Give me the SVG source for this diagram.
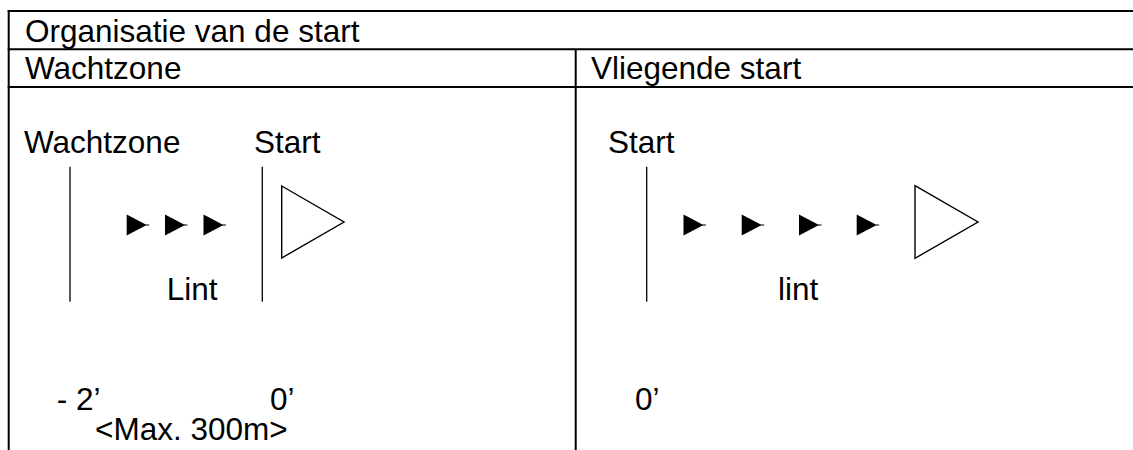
<svg xmlns="http://www.w3.org/2000/svg" width="1133" height="450" viewBox="0 0 1133 450">
<style>
.t{font-family:"Liberation Sans",Arial,sans-serif;font-size:31.5px;fill:#000}
.grid{stroke:#000;stroke-width:2;fill:none}
.post{stroke:#000;stroke-width:1.3;fill:none}
.flag{stroke:#000;stroke-width:1.4;fill:#fff;stroke-linejoin:miter}
.pt{fill:#000}
.tail{stroke:#000;stroke-width:1}
</style>
<defs>
<g id="pennant">
<polygon class="pt" points="0,-10.5 20,0 0,10.5"/>
<line class="tail" x1="19" y1="0" x2="22.5" y2="0"/>
</g>
</defs>
<rect width="1133" height="450" fill="#fff"/>
<g id="table">
<line class="grid" x1="7.7" y1="11" x2="1133" y2="11"/>
<line class="grid" x1="7.7" y1="49.3" x2="1133" y2="49.3"/>
<line class="grid" x1="7.7" y1="87" x2="1133" y2="87"/>
<line class="grid" x1="8.7" y1="10" x2="8.7" y2="450"/>
<line class="grid" x1="575.7" y1="49.3" x2="575.7" y2="450"/>
<text class="t" x="25" y="41.7">Organisatie van de start</text>
<text class="t" x="25" y="79">Wachtzone</text>
<text class="t" x="591" y="79">Vliegende start</text>
</g>
<g id="wachtzone">
<text class="t" x="24" y="153">Wachtzone</text>
<line class="post" x1="70" y1="166.7" x2="70" y2="301.7"/>
<text class="t" x="254" y="153">Start</text>
<line class="post" x1="262.3" y1="166.7" x2="262.3" y2="301.7"/>
<polygon class="flag" points="281.7,186 344,222 281.7,258"/>
<use href="#pennant" x="126.7" y="225"/>
<use href="#pennant" x="165" y="225"/>
<use href="#pennant" x="203.5" y="225"/>
<text class="t" x="166.7" y="300">Lint</text>
<text class="t" x="56.7" y="410">- 2’</text>
<text class="t" x="270" y="410">0’</text>
<text class="t" x="95" y="440">&lt;Max. 300m&gt;</text>
</g>
<g id="vliegende">
<text class="t" x="608" y="153">Start</text>
<line class="post" x1="646.7" y1="166.7" x2="646.7" y2="301.7"/>
<use href="#pennant" x="683.5" y="225"/>
<use href="#pennant" x="741.7" y="225"/>
<use href="#pennant" x="799" y="225"/>
<use href="#pennant" x="856.7" y="225"/>
<polygon class="flag" points="915,185.7 978,222 915,258.3"/>
<text class="t" x="778" y="300">lint</text>
<text class="t" x="635" y="410">0’</text>
</g>
</svg>
